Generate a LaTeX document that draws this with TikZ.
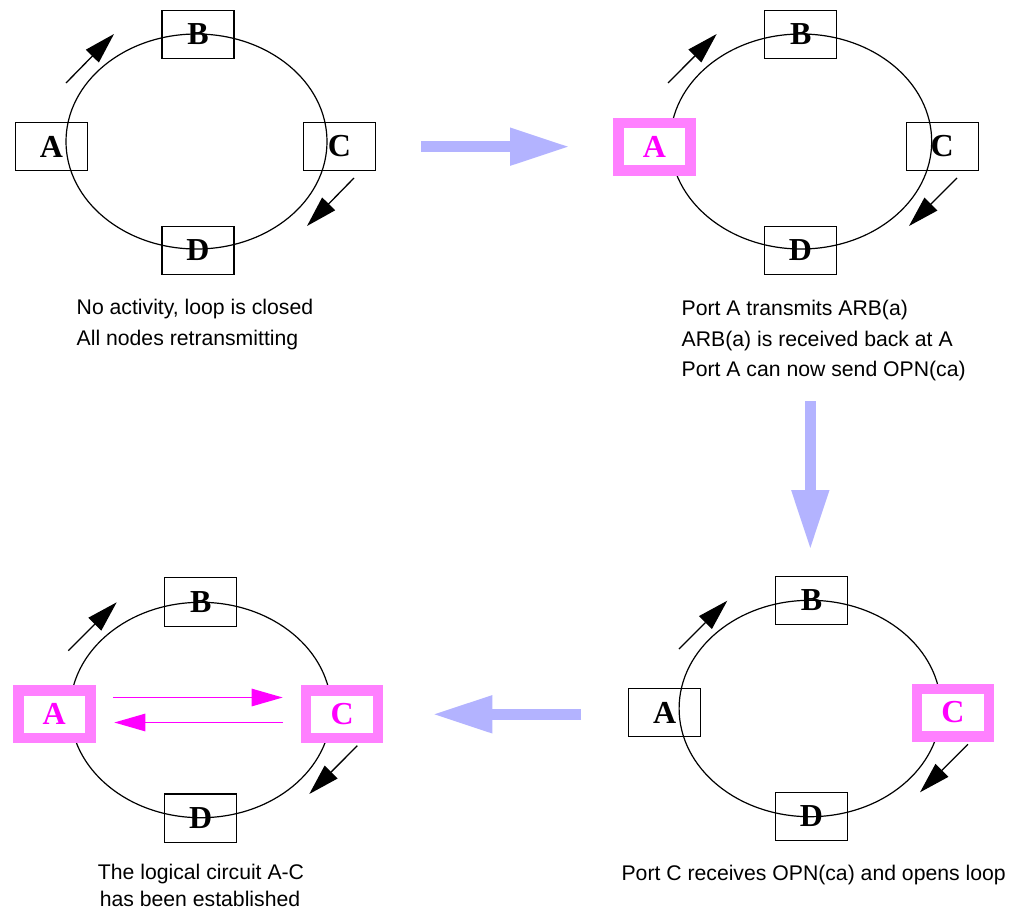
\documentclass[tikz,border=0pt]{standalone}
\usepackage{fontspec}
\setmainfont{Liberation Serif}
\newfontfamily\capfont{Liberation Sans}
\usetikzlibrary{arrows.meta}
\definecolor{pinkc}{HTML}{FF80FF}
\definecolor{magc}{HTML}{FF00FF}
\definecolor{bluec}{HTML}{B3B3FF}
\tikzset{
  box/.style={draw=black, line width=1.2pt, minimum width=72pt, minimum height=48.5pt,
    inner sep=0pt, font=\fontsize{32}{36}\selectfont\bfseries, text=black},
  hibox/.style={draw=pinkc, line width=10.5pt, fill=white, minimum width=72pt,
    minimum height=47.5pt, inner sep=0pt, font=\fontsize{32}{36}\selectfont\bfseries, text=magc},
  loop/.style={draw=black, line width=1.2pt},
  flow/.style={draw=black, line width=1.3pt, -{Triangle[length=31pt,width=18pt]}},
  link/.style={draw=magc, line width=1.6pt, -{Triangle[length=31pt,width=17.4pt]}},
  step arrow/.style={draw=bluec, line width=10.7pt, -{Triangle[length=60pt,width=35pt]}},
  caption/.style={inner sep=0pt, font=\capfont\fontsize{21.2}{25}\selectfont},
}
\begin{document}
\begin{tikzpicture}[x=1pt,y=-1pt]
\useasboundingbox (0,0) rectangle (1021,913);
\fill[white] (0,0) rectangle (1021,913);

% ---------- Panel 1 ----------
\draw[loop] (196.5,141.5) ellipse [x radius=130.5, y radius=107.5];
\node[box] (p1B) at (198,34.5) {B};
\node[box] (p1A) at (51.5,146.5) {A};
\node[box] (p1C) at (339.5,146.5) {C};
\node[box] (p1D) at (198,250.5) {D};
\coordinate (p1a1) at (66,83);   \coordinate (p1a2) at (114,34);
\coordinate (p1c1) at (354,178); \coordinate (p1c2) at (307,226);
\draw[flow] (p1a1) -- (p1a2);
\draw[flow] (p1c1) -- (p1c2);
\node[caption, anchor=base west] (t1a) at (76.5,314.3) {No activity, loop is closed};
\node[caption, anchor=base west] (t1b) at (76.5,345.7) {All nodes retransmitting};

% ---------- Panel 2 ----------
\draw[loop] (801,141.5) ellipse [x radius=130.7, y radius=107.5];
\node[box] (p2B) at (800.7,34.5) {B};
\node[hibox] (p2A) at (654.5,146.5) {A};
\node[box] (p2C) at (942.2,146.5) {C};
\node[box] (p2D) at (800.5,250.5) {D};
\coordinate (p2a1) at (668,83);   \coordinate (p2a2) at (716.7,34);
\coordinate (p2c1) at (957,178);  \coordinate (p2c2) at (909,226);
\draw[flow] (p2a1) -- (p2a2);
\draw[flow] (p2c1) -- (p2c2);
\node[caption, anchor=base west] (t2a) at (681.5,315) {Port A transmits ARB(a)};
\node[caption, anchor=base west] (t2b) at (681.5,346) {ARB(a) is received back at A};
\node[caption, anchor=base west] (t2c) at (681.5,376.7) {Port A can now send OPN(ca)};

% ---------- Panel 3 (bottom left) ----------
\draw[loop] (200.7,710) ellipse [x radius=130.5, y radius=107.7];
\node[box] (p3B) at (200.7,602) {B};
\node[hibox] (p3A) at (54.3,714) {A};
\node[hibox] (p3C) at (342.2,714) {C};
\node[box] (p3D) at (200.7,818.2) {D};
\coordinate (p3a1) at (68.3,650.7);  \coordinate (p3a2) at (116.7,602.3);
\coordinate (p3c1) at (357.3,745.7); \coordinate (p3c2) at (309.3,794);
\draw[flow] (p3a1) -- (p3a2);
\draw[flow] (p3c1) -- (p3c2);
\coordinate (l1s) at (113.3,697.5); \coordinate (l1e) at (282.7,697.5);
\coordinate (l2s) at (282.7,722.5); \coordinate (l2e) at (114.3,722.5);
\draw[link] (l1s) -- (l1e);
\draw[link] (l2s) -- (l2e);
\node[caption, anchor=base] (t3a) at (201,879.3) {The logical circuit A-C};
\node[caption, anchor=base] (t3b) at (200,906.7) {has been established};

% ---------- Panel 4 (bottom right) ----------
\draw[loop] (810,708.5) ellipse [x radius=130.9, y radius=108.2];
\node[box] (p4B) at (811.5,600.5) {B};
\node[box] (p4A) at (664.7,712.5) {A};
\node[hibox] (p4C) at (952.8,712.5) {C};
\node[box] (p4D) at (811.5,816.5) {D};
\coordinate (p4a1) at (679,649);     \coordinate (p4a2) at (727.3,600.7);
\coordinate (p4c1) at (968,744.3);   \coordinate (p4c2) at (920,792.3);
\draw[flow] (p4a1) -- (p4a2);
\draw[flow] (p4c1) -- (p4c2);
\node[caption, anchor=base west] (t4a) at (621.4,880) {Port C receives OPN(ca) and opens loop};

% ---------- step arrows ----------
\coordinate (s1a) at (421,146.7);   \coordinate (s1b) at (570,146.7);
\coordinate (s2a) at (810.3,401);   \coordinate (s2b) at (810.3,550);
\coordinate (s3a) at (581,714.3);   \coordinate (s3b) at (432.3,714.3);
\draw[step arrow] (s1a) -- (s1b);
\draw[step arrow] (s2a) -- (s2b);
\draw[step arrow] (s3a) -- (s3b);
\end{tikzpicture}
\end{document}
